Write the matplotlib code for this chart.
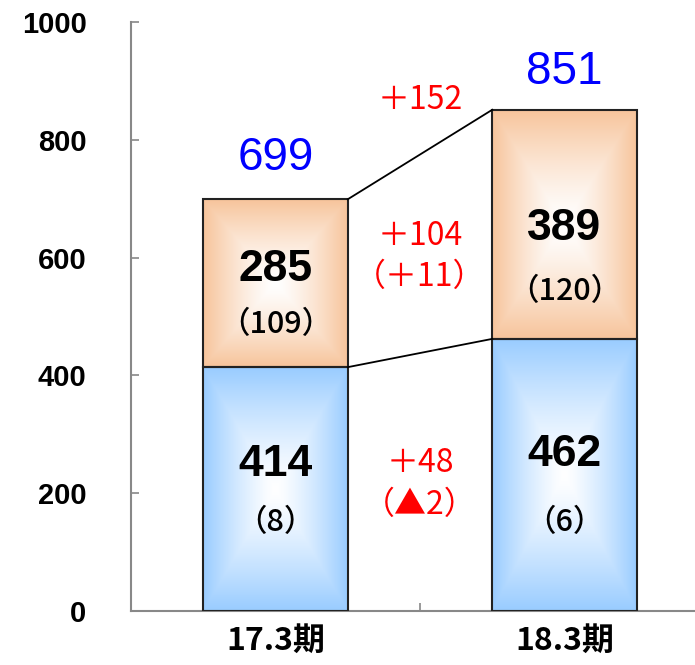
import numpy as np
import matplotlib
matplotlib.use("Agg")
import matplotlib.pyplot as plt
from matplotlib.patches import Rectangle
from matplotlib.colors import to_rgb

# data
periods = ["17.3期", "18.3期"]
lower = [414, 462]
upper = [285, 389]
lower_sub = ["（8）", "（6）"]
upper_sub = ["（109）", "（120）"]
totals = [699, 851]
diff_total = "＋152"
diff_upper = ["＋104", "（＋11）"]
diff_lower = ["＋48", "（▲2）"]

BLUE = "#99CCFF"
ORANGE = "#F7C49B"
JP = ["Noto Sans CJK JP", "DejaVu Sans"]
AR = ["Liberation Sans", "DejaVu Sans"]


def gradient_bar(ax, x, bottom, height, width, color):
    """Rectangular path gradient: white centre, coloured edges"""
    n = 200
    u = np.linspace(-1, 1, n)
    X, Y = np.meshgrid(u, u)
    t = np.maximum(np.abs(X), np.abs(Y)) ** 1.3
    c = np.array(to_rgb(color))
    img = 1 - t[..., None] * (1 - c)
    ax.imshow(img, extent=(x - width / 2, x + width / 2, bottom, bottom + height),
              aspect="auto", origin="lower", zorder=2, interpolation="bilinear")
    ax.add_patch(Rectangle((x - width / 2, bottom), width, height, fill=False,
                           edgecolor="#222222", lw=1.5, zorder=3))


fig = plt.figure(figsize=(6.95, 6.65), dpi=100)
ax = fig.add_axes([131 / 695, 54 / 665, 578 / 695, 589 / 665])

w = 0.5
for i in range(2):
    gradient_bar(ax, i, 0, lower[i], w, BLUE)
    gradient_bar(ax, i, lower[i], upper[i], w, ORANGE)

# connector lines
ax.plot([w / 2, 1 - w / 2], [totals[0], totals[1]], color="black", lw=1.3, zorder=3)
ax.plot([w / 2, 1 - w / 2], [lower[0], lower[1]], color="black", lw=1.3, zorder=3)

# labels inside bars
up_main_y = [579, 650]
up_sub_y = [486, 542]
lo_main_y = [248, 265]
lo_sub_y = [151, 151]
for i in range(2):
    ax.text(i, up_main_y[i], str(upper[i]), ha="center", va="center", fontsize=32,
            fontweight="bold", family=AR, zorder=4)
    ax.text(i, up_sub_y[i], upper_sub[i], ha="center", va="center", fontsize=22,
            fontweight="medium", family=JP, zorder=4)
    ax.text(i, lo_main_y[i], str(lower[i]), ha="center", va="center", fontsize=32,
            fontweight="bold", family=AR, zorder=4)
    ax.text(i, lo_sub_y[i], lower_sub[i], ha="center", va="center", fontsize=22,
            fontweight="medium", family=JP, zorder=4)

total_y = [769, 915]
for i in range(2):
    ax.text(i, total_y[i], str(totals[i]), ha="center", va="center", fontsize=33,
            color="#0000FF", family=AR, zorder=4)

# differences
red = dict(ha="center", va="center", fontsize=23, color="red", family=JP)
ax.text(0.5, 868, diff_total, **red)
ax.text(0.5, 637, diff_upper[0], **red)
ax.text(0.5, 567, diff_upper[1], **red)
ax.text(0.5, 251, diff_lower[0], **red)
ax.text(0.5, 180, diff_lower[1], **red)

ax.set_xlim(-0.5, 1.5)
ax.set_ylim(0, 1000)
ax.set_yticks([0, 200, 400, 600, 800, 1000])
ax.set_xticks([0, 1])
ax.set_xticklabels(periods, fontsize=23, fontweight="bold", family=JP)
ax.set_xticks([0.5], minor=True)
for lab in ax.get_yticklabels():
    lab.set_fontsize(21)
    lab.set_fontweight("bold")
    lab.set_family(AR)

for s in ["top", "right"]:
    ax.spines[s].set_visible(False)
for s in ["left", "bottom"]:
    ax.spines[s].set_color("#888888")
    ax.spines[s].set_linewidth(1.5)
ax.tick_params(axis="y", direction="in", length=6, color="#888888", width=1.2, pad=32)
ax.tick_params(axis="x", which="major", length=0, pad=10)
ax.tick_params(axis="x", which="minor", direction="in", length=6, color="#888888", width=1.2)

fig.savefig("out.png", dpi=100)
